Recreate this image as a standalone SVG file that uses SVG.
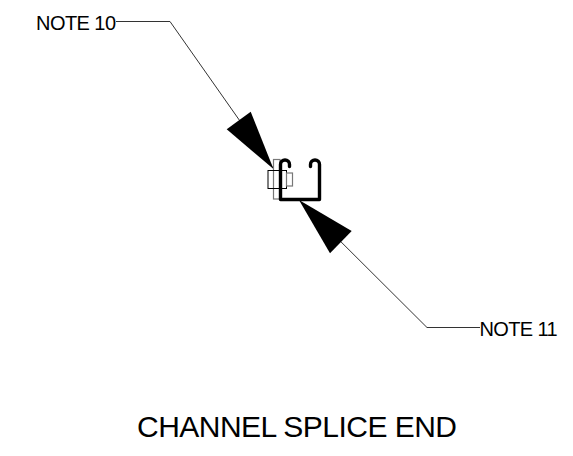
<svg xmlns="http://www.w3.org/2000/svg" width="573" height="456" viewBox="0 0 573 456">
<style>
text{font-family:"Liberation Sans",Arial,sans-serif;fill:#000}
.n{font-size:20px}
.lead{fill:none;stroke:#333;stroke-width:1}
.head{fill:#000}
.thin{fill:none;stroke:#000;stroke-width:1}
.grey{fill:none;stroke:#777;stroke-width:1.2}
</style>
<rect width="573" height="456" fill="#fff"/>
<g id="connectors">
<path id="leader-10" class="lead" d="M116 21.500H170L273 168"/>
<polygon class="head" points="273.500,169 250.700,111.700 226.700,129.300"/>
<path id="leader-11" class="lead" d="M480 327.500H427L299 200"/>
<polygon class="head" points="299,200 351.700,231 330,253.300"/>
</g>
<g id="channel">
<rect class="grey" x="273.500" y="159.500" width="6.500" height="39.500"/>
<rect class="thin" x="268" y="170.500" width="18.500" height="18"/>
<rect class="grey" x="286.500" y="173" width="6" height="13"/>
<path d="M280.500 199.500V164.500a4.500 4.500 0 0 1 9 0V166.500M319.500 199.500V164.500a4.500 4.500 0 0 0 -9 0V166.500M280.500 199.500H319.500" fill="none" stroke="#000" stroke-width="3.400" stroke-linecap="round"/>
</g>
<g id="note-10"><text class="n" x="36" y="30" textLength="80">NOTE 10</text></g>
<g id="note-11"><text class="n" x="479.500" y="336" textLength="78">NOTE 11</text></g>
<g id="title"><text x="137" y="437" font-size="30" textLength="320">CHANNEL SPLICE END</text></g>
</svg>
